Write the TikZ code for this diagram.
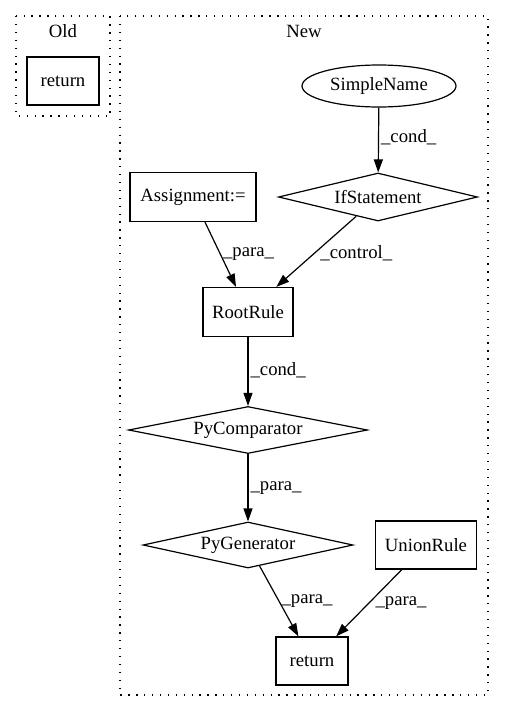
\documentclass[tikz,border=0pt]{standalone}
\usepackage{fontspec}
\setmainfont{Liberation Serif}
\usetikzlibrary{shapes.geometric,arrows.meta,positioning}

\begin{document}
\begin{tikzpicture}[
	x=1pt, y=-1pt,
	every node/.style = {font=\fontsize{18.7}{22}\selectfont},
	box/.style = {shape=rectangle, draw, line width=1.2pt,
	minimum width=72pt, minimum height=48pt},
	dia/.style = {shape=diamond, draw, line width=1.2pt, aspect=5, inner sep=0pt},
	oval/.style = {shape=ellipse, draw, line width=1.2pt, inner sep=0pt},
	cluster/.style = {draw, line width=1.3pt, dash pattern=on 1.3pt off 6.6pt},
	lbl/.style = {anchor=west, inner sep=2pt},
	edge/.style = {-{Triangle[length=13pt,width=9pt]}, line width=1.2pt}
]
\useasboundingbox (0,0) rectangle (504,712);

% clusters
\draw[cluster] (16,16) rectangle (110,116);
\node (oldtitle) at (63,31) {Old};
\draw[cluster] (120,16) rectangle (488,695);
\node (newtitle) at (304,31) {New};

% nodes
\node[box] (oldret) at (63,81) {return};
\node[oval, minimum width=154pt, minimum height=42pt] (simple) at (379,86) {SimpleName};
\node[dia, minimum width=199pt, minimum height=48pt] (ifstmt) at (378,197) {IfStatement};
\node[box, minimum width=126pt, minimum height=49pt] (assign) at (193,197) {Assignment:=};
\node[box, minimum width=90pt, minimum height=49pt] (root) at (248,312) {RootRule};
\node[dia, minimum width=239pt, minimum height=47pt] (pycomp) at (248,430) {PyComparator};
\node[dia, minimum width=210pt, minimum height=46pt] (pygen) at (248,545) {PyGenerator};
\node[box, minimum width=101pt] (union) at (426,545) {UnionRule};
\node[box] (ret) at (312,661) {return};

% edges
\draw[edge] (simple) -- node[lbl, pos=.45] {\_cond\_} (ifstmt);
\draw[edge] (assign) -- node[lbl, pos=.5] {\_para\_} (root);
\draw[edge] (ifstmt) -- node[lbl, pos=.53, xshift=4pt] {\_control\_} (root);
\draw[edge] (root) -- node[lbl, pos=.48] {\_cond\_} (pycomp);
\draw[edge] (pycomp) -- node[lbl, pos=.5] {\_para\_} (pygen);
\draw[edge] (pygen) -- node[lbl, pos=.5] {\_para\_} (ret);
\draw[edge] (union) -- node[lbl, pos=.5, xshift=4pt] {\_para\_} (ret);
\end{tikzpicture}
\end{document}
